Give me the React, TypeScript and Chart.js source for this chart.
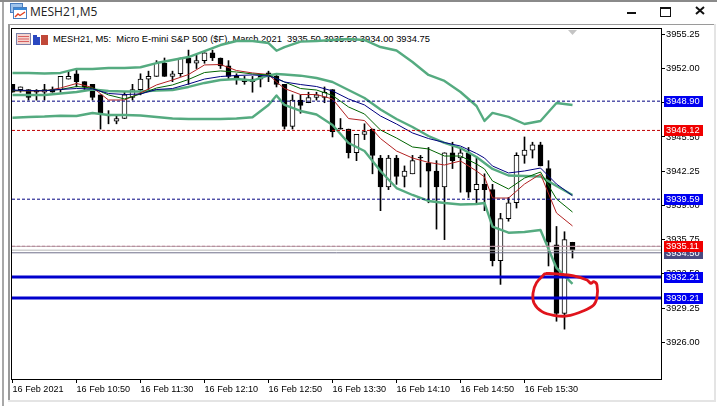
import React, { useEffect, useRef } from "react";
import { Chart, registerables } from "chart.js";

Chart.register(...registerables);

const windowTitle = "MESH21,M5";
const chartHeading = "MESH21, M5:  Micro E-mini S&P 500 ($F), March 2021  3935.50 3935.50 3934.00 3934.75";

const opens = [
  3950.5, 3950, 3950, 3949.75, 3949.75, 3950, 3950, 3951, 3951.5, 3950.75,
  3950.5, 3949.5, 3947.5, 3947, 3947.25, 3949.25, 3950, 3951, 3951.25, 3952.5,
  3951.25, 3951.5, 3953, 3952.5, 3952.75, 3953.5, 3953, 3952.25, 3951.25, 3950.75,
  3951, 3951, 3951.5, 3951.25, 3950.5, 3946.5, 3949, 3948.75, 3949.25, 3949.25,
  3950, 3946.25, 3946.25, 3944, 3945.75, 3946.25, 3943.5, 3940.75, 3943.5, 3941.75,
  3942, 3943.5, 3943, 3942.25, 3940.75, 3944, 3943.5, 3944, 3940.5, 3941,
  3940.5, 3933.75, 3937.75, 3939.25, 3943.75, 3944.25, 3944.75, 3942.5, 3935.25, 3928.75, 3935.5,
];
const highs = [
  3950.5, 3950.25, 3950, 3950, 3950.5, 3950.25, 3951.25, 3951.75, 3952, 3950.75,
  3950.5, 3949.5, 3948, 3947.5, 3949.75, 3950.5, 3951.5, 3951.75, 3952.75, 3953,
  3951.75, 3953, 3953.75, 3953.25, 3953.5, 3953.75, 3953, 3952.75, 3951.5, 3951.25,
  3951.25, 3951.25, 3951.75, 3951.5, 3950.5, 3949.5, 3949.5, 3949.75, 3949.75, 3950.25,
  3950, 3947.25, 3946.25, 3945.75, 3946.75, 3946.25, 3943.75, 3943.75, 3943.75, 3942.75,
  3943.75, 3943.75, 3944.5, 3943.25, 3944, 3945, 3944.5, 3944.5, 3943.5, 3942,
  3941, 3938.25, 3939.75, 3944, 3945.5, 3945, 3945, 3943.25, 3937, 3936.5, 3935.5,
];
const lows = [
  3949.75, 3949.75, 3949, 3949, 3949, 3949.75, 3949.75, 3951, 3950.25, 3950,
  3949, 3946.25, 3946.75, 3946.75, 3947.25, 3949, 3949.5, 3950, 3951.25, 3951.25,
  3950.75, 3951.25, 3950.5, 3952, 3952.5, 3952.75, 3952, 3951, 3950.5, 3950.5,
  3949.75, 3950.25, 3950.75, 3950.25, 3946.25, 3946.25, 3947.75, 3948.75, 3949, 3948.75,
  3945.5, 3946.25, 3943.5, 3943.25, 3945.25, 3942, 3938.5, 3940.5, 3941, 3940.75,
  3942, 3940.75, 3939.25, 3936.75, 3935.75, 3942.5, 3940.25, 3939.75, 3939.25, 3938.5,
  3933.25, 3931.5, 3937.5, 3938.75, 3943, 3943.5, 3942.75, 3933.25, 3928, 3927.25, 3934,
];
const closes = [
  3949.75, 3950.25, 3949.25, 3949.75, 3950, 3949.75, 3951.25, 3951.25, 3950.75, 3950.25,
  3949.25, 3947.75, 3947.5, 3947.25, 3949.5, 3950, 3951, 3951.25, 3952.5, 3951.25,
  3951.5, 3953, 3952.5, 3952.75, 3953.5, 3953, 3952.25, 3951.25, 3951, 3951,
  3950.75, 3951.25, 3951.5, 3950.5, 3946.5, 3949, 3948.5, 3949.25, 3949.5, 3949.75,
  3946, 3946.25, 3944, 3945.75, 3946, 3943.75, 3940.75, 3943.5, 3941.75, 3942.25,
  3943.25, 3943.5, 3942.25, 3940.75, 3944, 3943.25, 3944, 3940.25, 3941, 3940.5,
  3933.75, 3937.75, 3939.25, 3943.75, 3944.25, 3944.75, 3942.75, 3935.5, 3928.75, 3935.75, 3934.75,
];

const lineIdx = [
  0, 2, 4, 6, 8, 10, 12, 14, 16, 18, 20, 22, 24, 26, 28, 30, 32, 33, 34, 36, 38, 40, 42, 44, 46, 48,
  50, 52, 54, 56, 58, 59, 60, 62, 64, 66, 68, 70,
];
const upperBand = [
  3951.58, 3951.58, 3951.53, 3951.58, 3951.96, 3951.96, 3952.05, 3952.05, 3952.12, 3952.52, 3952.81, 3953.09, 3953.66,
  3954.23, 3954.61, 3954.61, 3954.42, 3953.69, 3954.04, 3954.55, 3954.61, 3954.71, 3954.8, 3954.71, 3954.04, 3953.71,
  3952.62, 3951.39, 3950.82, 3949.77, 3948.44, 3947.02, 3947.78, 3947.4, 3946.73, 3947.02, 3948.73, 3948.54,
];
const middleBand = [
  3949.49, 3949.49, 3949.49, 3949.63, 3949.77, 3950.01, 3949.87, 3949.82, 3949.82, 3949.91, 3949.96, 3950.25, 3950.63,
  3950.91, 3951, 3950.86, 3951.34, 3951.48, 3951.43, 3951.32, 3951.1, 3950.72, 3949.96, 3949.2, 3948.11, 3947.21,
  3946.45, 3945.59, 3944.93, 3944.45, 3943.6, 3943.03, 3942.46, 3941.84, 3941.79, 3941.75, 3940.84, 3939.99,
];
const lowerBand = [
  3947.33, 3947.4, 3947.44, 3947.52, 3947.49, 3947.78, 3947.59, 3947.59, 3947.54, 3947.4, 3947.25, 3947.21, 3947.21,
  3947.21, 3947.25, 3947.37, 3948.54, 3949.44, 3948.54, 3947.97, 3947.63, 3946.64, 3944.93, 3944.17, 3942.27, 3940.65,
  3939.99, 3939.42, 3939.23, 3939.09, 3939.13, 3939.23, 3936.98, 3936.41, 3936.48, 3936.67, 3933.06, 3931.54,
];
const redAverage = [
  3949.89, 3949.87, 3949.87, 3950.15, 3950.58, 3950.2, 3949.01, 3949.01, 3949.68, 3950.44, 3950.91, 3951.43, 3952.34,
  3952.38, 3951.81, 3951.58, 3951.43, 3950.72, 3950.1, 3949.53, 3949.53, 3949.11, 3947.25, 3947.06, 3945.35, 3944.17,
  3943.5, 3943.08, 3942.84, 3943.22, 3942.27, 3941.7, 3939.7, 3939.7, 3941.03, 3941.98, 3938.28, 3937.05,
];
const greenAverage = [
  3949.89, 3949.89, 3949.91, 3950.01, 3950.29, 3950.15, 3949.49, 3949.11, 3949.58, 3950.15, 3950.44, 3950.96, 3951.62,
  3951.77, 3951.67, 3951.48, 3951.39, 3951.05, 3950.72, 3950.1, 3949.96, 3949.44, 3948.35, 3947.68, 3946.16, 3945.4,
  3944.55, 3944.36, 3943.69, 3943.69, 3942.93, 3942.46, 3941.32, 3940.56, 3941.6, 3942.17, 3939.61, 3938.37,
];
const navyAverage = [
  3949.96, 3949.91, 3949.89, 3950.01, 3950.1, 3950.06, 3949.63, 3949.53, 3949.58, 3950.01, 3950.1, 3950.53, 3951,
  3951.24, 3951.34, 3951.39, 3951.29, 3951.05, 3950.72, 3950.48, 3950.29, 3949.87, 3949.11, 3948.54, 3947.49, 3946.73,
  3945.88, 3945.35, 3944.97, 3944.64, 3943.93, 3943.5, 3942.74, 3942.08, 3942.27, 3942.55, 3941.03, 3939.92,
];

const scribbleIdx = [66.6, 68.06, 70.15, 71.8, 72.3, 72.65, 73.06, 73.06, 72.65, 71.4, 69.3, 67.65, 66.19, 65.2, 65.06, 65.5, 66.6];
const scribblePrice = [3932.55, 3932.49, 3932.3, 3931.92, 3931.6, 3931.76, 3931.44, 3930.27, 3929.54, 3929, 3928.5, 3928.56, 3928.91, 3929.7, 3930.65, 3931.66, 3932.55];

const priceTicks = [3955.25, 3952, 3948.75, 3945.5, 3942.25, 3939, 3935.75, 3932.5, 3929.25, 3926];
const timeTickIdx = [0, 8, 16, 24, 32, 40, 48, 56, 64];
const timeTickLabels = [
  "16 Feb 2021", "16 Feb 10:50", "16 Feb 11:30", "16 Feb 12:10", "16 Feb 12:50",
  "16 Feb 13:30", "16 Feb 14:10", "16 Feb 14:50", "16 Feb 15:30",
];

const priceTags = [
  { value: 3948.9, color: "#0000f0" },
  { value: 3946.12, color: "#f00000" },
  { value: 3939.59, color: "#0000f0" },
  { value: 3934.5, color: "#4a4a80" },
  { value: 3935.11, color: "#f00000" },
  { value: 3932.21, color: "#0000f0" },
  { value: 3930.21, color: "#0000f0" },
];

const xMin = -0.0625;
const xMax = 81.0625;
const yMin = 3922.515;
const yMax = 3955.753;
const FONT = "9.3px 'Liberation Sans'";

const level = (value: number, color: string, width: number, dash: number[]) => ({
  type: "line" as const,
  data: [{ x: xMin, y: value }, { x: xMax, y: value }],
  borderColor: color,
  borderWidth: width,
  borderDash: dash,
  pointRadius: 0,
  order: 2,
});
const curve = (values: number[], color: string, width: number, order: number) => ({
  type: "line" as const,
  data: values.map((y, i) => ({ x: lineIdx[i], y })),
  borderColor: color,
  borderWidth: width,
  pointRadius: 0,
  tension: 0,
  borderJoinStyle: "round" as const,
  order,
});

const overlay = {
  id: "overlay",
  afterDraw(chart: any) {
    const { ctx, chartArea: a, scales } = chart;
    ctx.save();
    ctx.strokeStyle = "#000";
    ctx.lineWidth = 1;
    ctx.strokeRect(a.left - 0.5, a.top - 0.5, a.right - a.left + 1, a.bottom - a.top + 1);
    const mark = scales.x.getPixelForValue(opens.length - 1);
    ctx.fillStyle = "#c4c4c4";
    ctx.beginPath();
    ctx.moveTo(mark - 4.5, a.top + 1);
    ctx.lineTo(mark + 4.5, a.top + 1);
    ctx.lineTo(mark, a.top + 6);
    ctx.closePath();
    ctx.fill();
    ctx.font = FONT;
    ctx.textBaseline = "middle";
    priceTags.forEach((tag) => {
      const y = scales.y.getPixelForValue(tag.value);
      ctx.fillStyle = tag.color;
      ctx.fillRect(664, Math.round(y) - 5, 39, 11);
      ctx.fillStyle = "#fff";
      ctx.fillText(tag.value.toFixed(2), 666, Math.round(y) + 0.5);
    });
    ctx.restore();
  },
};

export default function App() {
  const ref = useRef<HTMLCanvasElement>(null);
  useEffect(() => {
    const candleX = opens.map((_, i) => i);
    const chart = new Chart(ref.current as HTMLCanvasElement, {
      type: "bar",
      data: {
        datasets: [
          {
            data: candleX.map((x) => ({ x, y: [lows[x], highs[x]] })),
            backgroundColor: "#000",
            barThickness: 1,
            grouped: false,
            order: 20,
          } as any,
          {
            data: candleX.map((x) => ({ x, y: [opens[x], closes[x]] })),
            backgroundColor: candleX.map((x) => (closes[x] > opens[x] ? "#fff" : "#000")),
            borderColor: "#000",
            borderWidth: 1,
            borderSkipped: false,
            barThickness: 5,
            minBarLength: 1,
            grouped: false,
            order: 19,
          } as any,
          level(3934.75, "#b8b8b8", 1, []),
          level(3934.5, "#70708a", 1, []),
          level(3935.11, "#b8a0a8", 1, []),
          level(3935.11, "#a02050", 1, [3, 2]),
          level(3948.9, "#000080", 1, [3, 2]),
          level(3939.59, "#000080", 1, [3, 2]),
          level(3946.12, "#c00000", 1, [3, 2]),
          curve(upperBand, "#55ab80", 2.4, 4),
          curve(middleBand, "#55ab80", 2.4, 4),
          curve(lowerBand, "#55ab80", 2.4, 4),
          curve(navyAverage, "#000080", 1, 3),
          curve(greenAverage, "#006400", 1, 3),
          curve(redAverage, "#b22222", 1, 3),
          level(3932.21, "#0000cd", 3, []),
          level(3930.21, "#0000cd", 3, []),
          {
            type: "line",
            data: scribbleIdx.map((x, i) => ({ x, y: scribblePrice[i] })),
            borderColor: "#e0141c",
            borderWidth: 2.8,
            pointRadius: 0,
            tension: 0.35,
            order: 1,
          } as any,
        ],
      },
      options: {
        animation: false,
        responsive: false,
        devicePixelRatio: 1,
        events: [],
        layout: { padding: { left: 12, top: 29, right: 0, bottom: 0 } },
        plugins: { legend: { display: false }, tooltip: { enabled: false } },
        scales: {
          x: {
            type: "linear",
            offset: false,
            min: xMin,
            max: xMax,
            afterBuildTicks: (s: any) => {
              s.ticks = timeTickIdx.map((value) => ({ value }));
            },
            afterFit: (s: any) => {
              s.height = 27;
            },
            grid: { offset: false, drawOnChartArea: false, tickLength: 4, tickColor: "#000" },
            border: { color: "#000" },
            ticks: {
              autoSkip: false,
              maxRotation: 0,
              align: "start",
              padding: 1,
              color: "#000",
              font: { family: "'Liberation Sans'", size: 9.1 },
              callback: (v: any) => timeTickLabels[timeTickIdx.indexOf(Number(v))] ?? "",
            },
          },
          y: {
            type: "linear",
            position: "right",
            min: yMin,
            max: yMax,
            afterBuildTicks: (s: any) => {
              s.ticks = priceTicks.map((value) => ({ value }));
            },
            afterFit: (s: any) => {
              s.width = 56;
            },
            grid: { drawOnChartArea: false, tickLength: 4, tickColor: "#000" },
            border: { color: "#000" },
            ticks: {
              autoSkip: false,
              padding: 1,
              color: "#000",
              font: { family: "'Liberation Sans'", size: 9.3 },
              callback: (v: any) => Number(v).toFixed(2),
            },
          },
        },
      },
      plugins: [overlay],
    } as any);
    return () => chart.destroy();
  }, []);

  return (
    <div style={{ position: "fixed", left: 0, top: 0, width: 717, height: 406, background: "#fff", overflow: "hidden" }}>
      <div style={{ position: "absolute", left: 0, top: 0, width: 717, height: 2, background: "#8a8a8a" }} />
      <div style={{ position: "absolute", left: 2, top: 2, width: 1.5, height: 404, background: "#a8a8a8" }} />
      <div style={{ position: "absolute", left: 8, top: 24, width: 707, height: 1, background: "#9a9a9a" }} />
      <div style={{ position: "absolute", left: 8, top: 24, width: 2, height: 377, background: "#9a9a9a" }} />
      <div style={{ position: "absolute", left: 8, top: 400, width: 707, height: 2, background: "#e4e4e4" }} />
      <div style={{ position: "absolute", left: 714, top: 24, width: 2, height: 378, background: "#e4e4e4" }} />
      <svg width="17" height="16" style={{ position: "absolute", left: 10, top: 3 }}>
        <rect x="0.5" y="0.5" width="12" height="9" fill="#9fc4ec" stroke="#4a7fc0" />
        <rect x="3.5" y="4.5" width="13" height="11" fill="#fff" stroke="#4a7fc0" />
        <rect x="4" y="5" width="12" height="2" fill="#3a8ad8" />
        <path d="M5 14 L8 11 L10 12.5 L15 9" stroke="#e04020" fill="none" strokeWidth="1.4" />
      </svg>
      <div style={{ position: "absolute", left: 30, top: 3, font: "12px 'Open Sans'", color: "#222", whiteSpace: "pre" }}>{windowTitle}</div>
      <div style={{ position: "absolute", left: 627, top: 12, width: 9, height: 2, background: "#111" }} />
      <div style={{ position: "absolute", left: 660, top: 7, width: 9, height: 7, border: "1px solid #111", borderTopWidth: 2 }} />
      <svg width="10" height="9" style={{ position: "absolute", left: 695, top: 6 }}>
        <path d="M1 1 L9 8 M9 1 L1 8" stroke="#111" strokeWidth="2" />
      </svg>
      <svg width="33" height="13" style={{ position: "absolute", left: 16, top: 33 }}>
        <rect x="0.5" y="0.5" width="14" height="11" fill="#f4d4d0" stroke="#7a80a8" />
        <path d="M2 3.5 H13 M2 6 H13 M2 8.5 H13" stroke="#d86060" strokeWidth="1" />
        <rect x="17" y="2" width="7" height="10" fill="#2a48c0" />
        <rect x="25" y="2" width="7" height="10" fill="#c04838" />
        <rect x="21" y="0" width="3" height="4" fill="#fff" />
      </svg>
      <div style={{ position: "absolute", left: 53, top: 34, font: "9.35px 'Liberation Sans'", color: "#000", whiteSpace: "pre" }}>{chartHeading}</div>
      <canvas ref={ref} width={717} height={406} style={{ position: "absolute", left: 0, top: 0, display: "block" }} />
    </div>
  );
}
